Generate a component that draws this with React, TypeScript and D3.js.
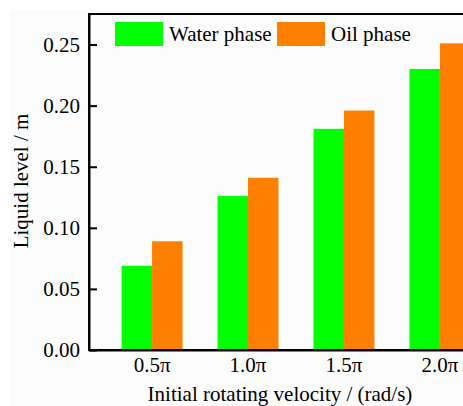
import React, { useEffect, useRef } from 'react';
import * as d3 from 'd3';

const categories = ['0.5π', '1.0π', '1.5π', '2.0π'];
const waterPhase = [0.069, 0.126, 0.181, 0.230];
const oilPhase = [0.089, 0.141, 0.196, 0.251];
const yTicks = [0, 0.05, 0.1, 0.15, 0.2, 0.25];

const seriesNames = ['Water phase', 'Oil phase'];
const seriesColors = ['#00ff00', '#ff8000'];

const FONT = '"Liberation Serif", "Times New Roman", serif';
const FS = 21;

export default function App() {
  const ref = useRef<SVGSVGElement>(null);

  useEffect(() => {
    const width = 463;
    const height = 406;
    const left = 89;
    const top = 14;
    const bottom = 350;
    const right = 503;

    const svg = d3.select(ref.current).attr('width', width).attr('height', height);
    svg.selectAll('*').remove();

    // light page background like the source figure
    svg.append('rect').attr('width', width).attr('height', height).attr('fill', '#ffffff');
    svg.append('rect').attr('x', 10).attr('y', 10).attr('width', width - 10).attr('height', height - 10).attr('fill', '#fcfcfc');

    // Scales
    const x = d3.scaleBand().domain(categories).range([left, right]).paddingInner(0.365).paddingOuter(0.34);
    const xSub = d3.scaleBand().domain(seriesNames).range([0, x.bandwidth()]);
    const y = d3.scaleLinear().domain([0, 0.275]).range([bottom, top]);
    const color = d3.scaleOrdinal<string, string>().domain(seriesNames).range(seriesColors);

    const rows = categories.map((c, i) => ({ cat: c, values: [waterPhase[i], oilPhase[i]] }));

    // Bars
    const groups = svg.selectAll('.grp')
      .data(rows)
      .join('g')
      .attr('class', 'grp')
      .attr('transform', d => `translate(${x(d.cat)}, 0)`);

    groups.selectAll('rect')
      .data(d => d.values.map((v, k) => ({ name: seriesNames[k], value: v })))
      .join('rect')
      .attr('x', d => xSub(d.name)!)
      .attr('width', xSub.bandwidth())
      .attr('y', d => y(d.value))
      .attr('height', d => y(0) - y(d.value))
      .attr('fill', d => color(d.name));

    // Frame
    svg.append('rect')
      .attr('x', left).attr('y', top)
      .attr('width', right - left).attr('height', bottom - top)
      .attr('fill', 'none').attr('stroke', '#000').attr('stroke-width', 2);

    // Axes
    const yAxis = svg.append('g')
      .attr('transform', `translate(${left}, 0)`)
      .call(d3.axisLeft(y).tickValues(yTicks).tickFormat(d3.format('.2f')).tickSizeInner(-8).tickSizeOuter(0).tickPadding(9));
    yAxis.select('.domain').attr('stroke-width', 2);
    yAxis.selectAll('.tick line').attr('stroke-width', 2);
    yAxis.selectAll('text').attr('font-family', FONT).attr('font-size', FS).attr('fill', '#000');

    const xAxis = svg.append('g')
      .attr('transform', `translate(0, ${bottom})`)
      .call(d3.axisBottom(x).tickSize(0).tickPadding(7));
    xAxis.select('.domain').attr('stroke-width', 2);
    xAxis.selectAll('text').attr('font-family', FONT).attr('font-size', FS).attr('fill', '#000');

    // Axis titles
    svg.append('text')
      .attr('x', 280).attr('y', 401)
      .attr('text-anchor', 'middle')
      .attr('font-family', FONT).attr('font-size', FS)
      .text('Initial rotating velocity / (rad/s)');

    svg.append('text')
      .attr('transform', 'translate(28, 181) rotate(-90)')
      .attr('text-anchor', 'middle')
      .attr('font-family', FONT).attr('font-size', FS)
      .text('Liquid level / m');

    // Legend
    const legendX = [115, 277];
    const legend = svg.selectAll('.legend')
      .data(seriesNames)
      .join('g')
      .attr('class', 'legend')
      .attr('transform', (d, i) => `translate(${legendX[i]}, 22)`);
    legend.append('rect').attr('width', 48).attr('height', 24).attr('fill', d => color(d));
    legend.append('text')
      .attr('x', 54).attr('y', 19)
      .attr('font-family', FONT).attr('font-size', FS)
      .text(d => d);
  }, []);

  return (
    <svg ref={ref} style={{ position: 'absolute', left: 0, top: 0 }} />
  );
}
